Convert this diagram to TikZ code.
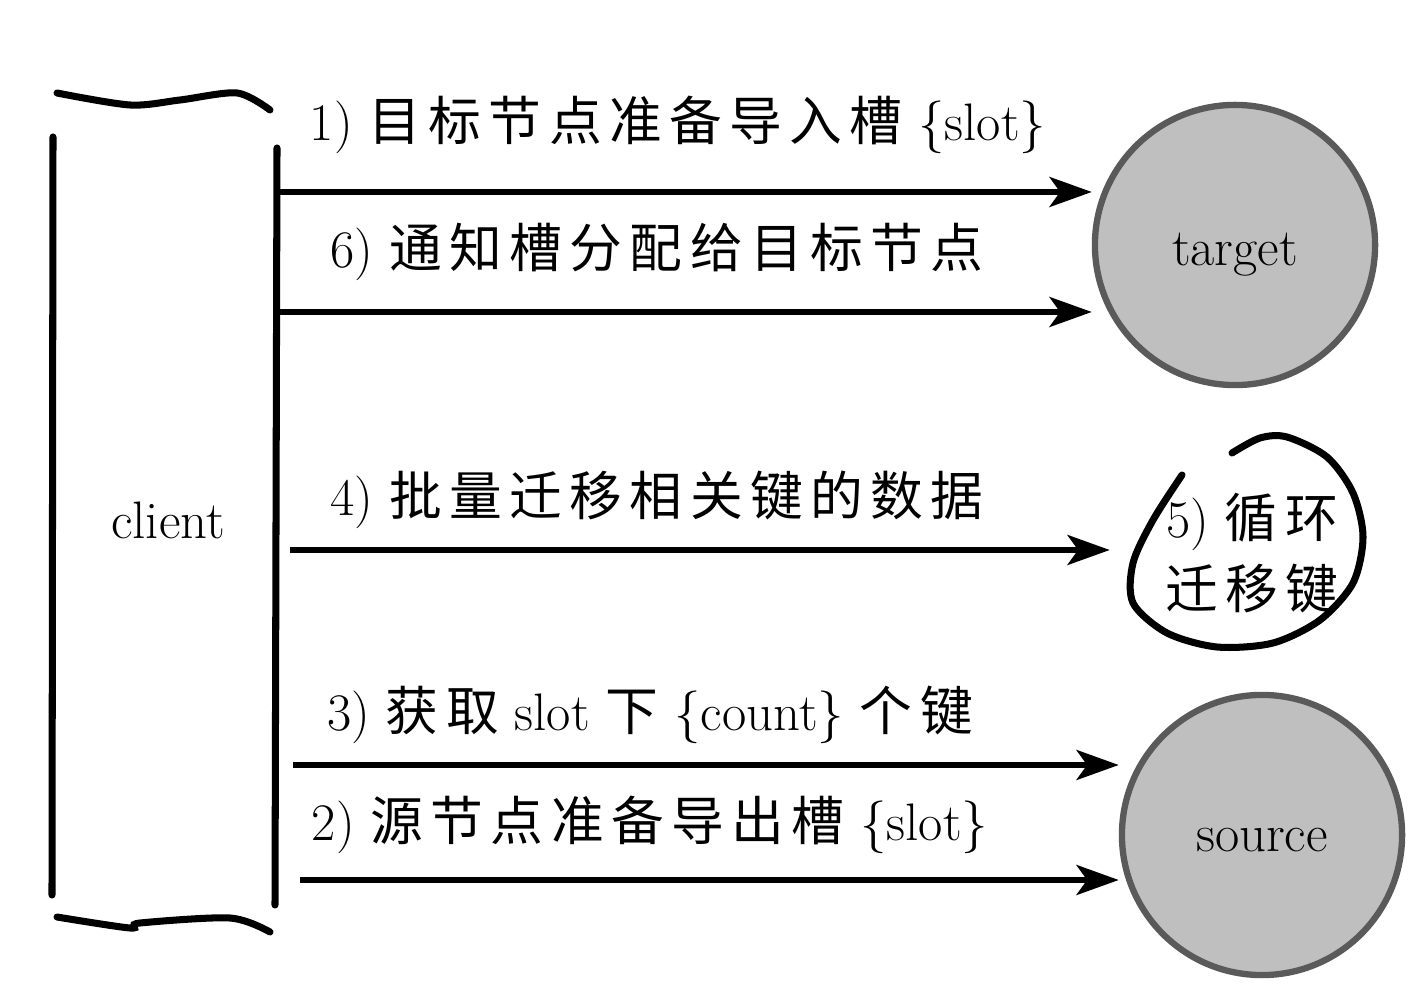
\documentclass[tikz,border=0pt]{standalone}
\usepackage{fontspec}
\newfontfamily\cjk[LetterSpace=14]{Noto Sans CJK SC}
\usetikzlibrary{positioning, arrows.meta}
\definecolor{nodegray}{RGB}{191, 191, 191}
\definecolor{rimgray}{RGB}{90, 90, 90}

\begin{document}
\begin{tikzpicture}[x=0.01cm, y=-0.01cm,
  font=\fontsize{15}{18}\selectfont,
  flow/.style={-{Stealth[length=12pt, width=8.5pt, inset=3pt]}, line width=1.7pt},
  brace/.style={line width=2pt, line cap=round},
  server/.style={circle, draw=rimgray, fill=nodegray, line width=1.8pt,
    minimum size=2.8cm},
  msg/.style={inner sep=0pt}
]
  \useasboundingbox (0,0) rectangle (1428,986);

  % client bracket
  \draw[brace] plot[smooth] coordinates {(57,93) (130,105) (180,100) (237,93) (270,110)};
  \draw[brace] plot[smooth] coordinates {(57,917) (130,928) (140,923) (230,918) (270,932)};
  \draw[brace] (53,137) -- (52,895);
  \draw[brace] (277,148) -- (275,905);
  \node (client) at (168,520) {client};

  \node[server] (target) at (1235,245) {};
  \node (tlabel) at (1235,255) {target};
  \node[server] (source) at (1262,835) {};
  \node (slabel) at (1262,840) {source};

  \node[align=center, inner sep=0pt] (loop) at (1252,553)
    {5) {\cjk 循环}\\[2pt]{\cjk 迁移键}};
  \draw[brace] plot[smooth] coordinates {(1232,453) (1260,438) (1287,437)
    (1327,457) (1353,493) (1363,537) (1353,583) (1320,620) (1273,643)
    (1217,647) (1167,633) (1133,603) (1133,563) (1153,520) (1182,475)};

  \coordinate (a1) at (277,192);
  \coordinate (a6) at (275,312);
  \coordinate (a4) at (290,550);
  \coordinate (a3) at (293,765);
  \coordinate (a2) at (300,880);

  \draw[flow] (a1) -- (a1 -| target.west);
  \draw[flow] (a6) -- (a6 -| target.west);
  \draw[flow, shorten >=0.55cm] (a4) -- (a4 -| loop.west);
  \draw[flow] (a3) -- (a3 -| source.west);
  \draw[flow] (a2) -- (a2 -| source.west);

  \node[msg] (m1) at (678,125) {1) {\cjk 目标节点准备导入槽} \{slot\}};
  \node[msg] (m6) at (657,252) {6) {\cjk 通知槽分配给目标节点}};
  \node[msg] (m4) at (657,500) {4) {\cjk 批量迁移相关键的数据}};
  \node[msg] (m3) at (650,715) {3) {\cjk 获取} slot {\cjk 下} \{count\} {\cjk 个键}};
  \node[msg] (m2) at (650,825) {2) {\cjk 源节点准备导出槽} \{slot\}};
\end{tikzpicture}
\end{document}
